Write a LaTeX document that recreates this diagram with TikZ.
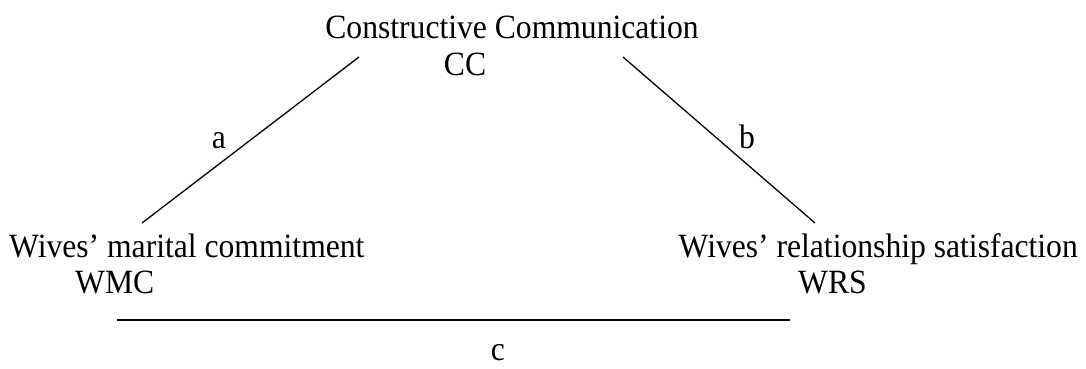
\documentclass[tikz,border=0pt]{standalone}
\usepackage{fontspec}
\setmainfont{Liberation Serif}[FakeStretch=0.93]
\begin{document}
\begin{tikzpicture}[x=1pt,y=-1pt,
  lbl/.style={inner sep=0pt,font=\fontsize{34}{40}\selectfont},
  path/.style={line width=1.3pt},
  cpath/.style={line width=2.2pt}]
\useasboundingbox (0,0) rectangle (1086,369);
% texts
\node[lbl,anchor=base] (cct) at (512,38) {Constructive Communication};
\node[lbl,anchor=base] (ccs) at (465,75) {CC};
\node[lbl,anchor=base west] (wmct) at (9,257) {Wives’ marital commitment};
\node[lbl,anchor=base west] (wmcs) at (75,293) {WMC};
\node[lbl,anchor=base east] (wrst) at (1078,257) {Wives’ relationship satisfaction};
\node[lbl,anchor=base west] (wrss) at (798,293) {WRS};
\node[lbl,anchor=base] (la) at (219,148) {a};
\node[lbl,anchor=base] (lb) at (747,148) {b};
\node[lbl,anchor=base,text depth=0pt] (lc) at (498,360) {c};
% connector ends
\coordinate (a1) at (359,57);
\coordinate (a2) at (142,223);
\coordinate (b1) at (623,57);
\coordinate (b2) at (815,223);
\coordinate (c1) at (117,320);
\coordinate (c2) at (790,320);
\draw[path] (a1) -- (a2);
\draw[path] (b1) -- (b2);
\draw[cpath] (c1) -- (c2);
\end{tikzpicture}
\end{document}
